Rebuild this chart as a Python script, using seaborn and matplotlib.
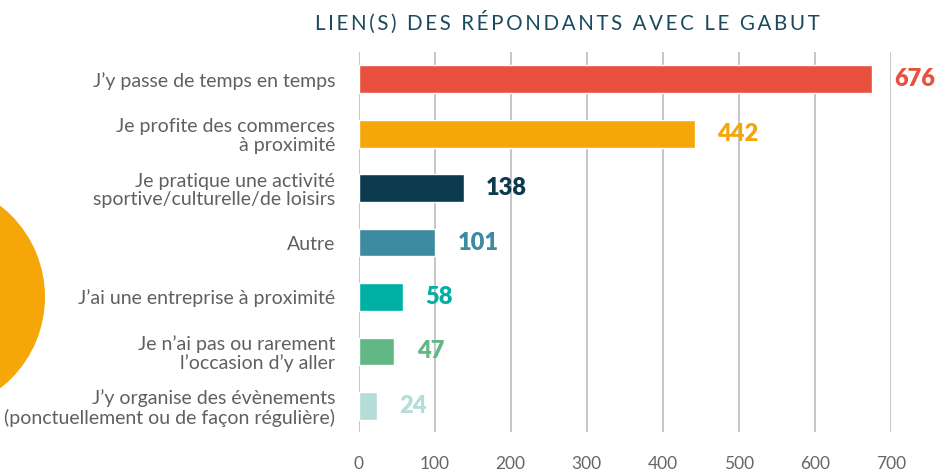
import matplotlib
matplotlib.use("Agg")
import matplotlib.pyplot as plt
import seaborn as sns
import pandas as pd
from matplotlib.patches import Circle

# === données ===
categories = [
    "J\u2019y passe de temps en temps",
    "Je profite des commerces\nà proximité",
    "Je pratique une activité\nsportive/culturelle/de loisirs",
    "Autre",
    "J\u2019ai une entreprise à proximité",
    "Je n\u2019ai pas ou rarement\nl\u2019occasion d\u2019y aller",
    "J\u2019y organise des évènements\n(ponctuellement ou de façon régulière)",
]
values = [676, 442, 138, 101, 58, 47, 24]
colors = ["#E9503F", "#F5A70A", "#0C3B4F", "#3E8AA1", "#00B0A6", "#62B884", "#B4DDD9"]
x_ticks = [0, 100, 200, 300, 400, 500, 600, 700]
title = "LIEN(S) DES RÉPONDANTS AVEC LE GABUT"

# === style ===
sns.set_theme(style="white")
plt.rcParams["font.family"] = ["Lato", "DejaVu Sans"]

df = pd.DataFrame({"cat": categories, "val": values})

fig = plt.figure(figsize=(9.38, 4.70), dpi=100)
ax = fig.add_axes([358.7 / 938, 1 - 432 / 470, (890.7 - 358.7) / 938, (432 - 52) / 470])

sns.barplot(data=df, x="val", y="cat", hue="cat", palette=colors, orient="h",
            width=0.51, saturation=1, legend=False, ax=ax, zorder=3)

ax.set_xlim(0, 700)
ax.set_ylim(6.48, -0.5)
ax.set_xticks(x_ticks)
ax.set_xticklabels([str(t) for t in x_ticks])
ax.grid(axis="x", color="#c6c6c6", linewidth=1.4, zorder=0)
ax.grid(axis="y", visible=False)
for s in ax.spines.values():
    s.set_visible(False)
ax.set_xlabel("")
ax.set_ylabel("")
ax.tick_params(axis="x", length=0, pad=17, labelsize=12.5, labelcolor="#666666")
ax.tick_params(axis="y", length=0, pad=17, labelsize=14, labelcolor="#606060")
for lbl in ax.get_yticklabels():
    lbl.set_linespacing(1.1)

# valeurs au bout des barres
for i, (v, c) in enumerate(zip(values, colors)):
    ax.annotate(str(v), xy=(v, i), xytext=(16, 0), textcoords="offset points",
                ha="left", va="center", fontsize=17, fontweight="heavy",
                color=c, annotation_clip=False)

# titre espacé
spaced = "\u2009".join(title)
fig.text(567 / 938, 1 - 22 / 470, spaced, ha="center", va="center",
         fontsize=14.8, color="#1B4A5E")

# cercle orange décoratif (coordonnées en pouces)
circ = Circle((-70.5 / 100, (470 - 297) / 100), 115.5 / 100,
              transform=fig.dpi_scale_trans, facecolor="#F5A70A",
              edgecolor="none", zorder=-1)
fig.patches.append(circ)

fig.savefig("out.png", dpi=100)
